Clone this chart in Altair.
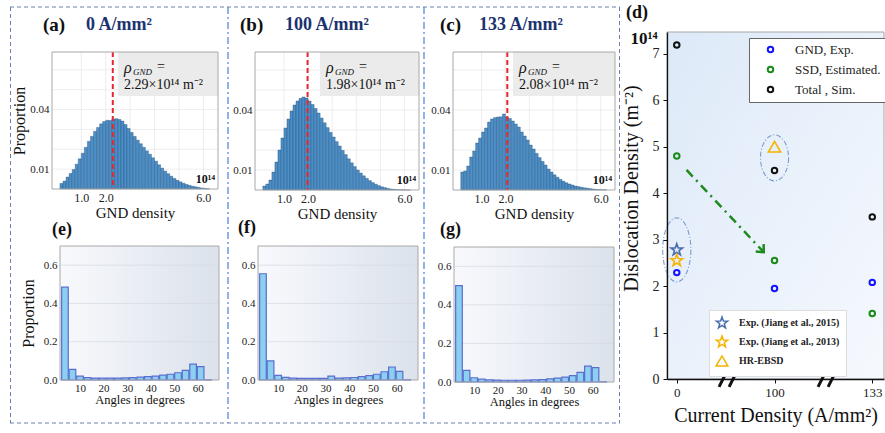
import altair as alt
import pandas as pd

SERIF = "Liberation Serif"
W, H = 885, 433

# ---------------- data: GND density histograms (a)-(c) ----------------
gnd_lo = [0.125, 0.25, 0.375, 0.5, 0.625, 0.75, 0.875, 1.0, 1.125, 1.25,
          1.375, 1.5, 1.625, 1.75, 1.875, 2.0, 2.125, 2.25, 2.375, 2.5,
          2.625, 2.75, 2.875, 3.0, 3.125, 3.25, 3.375, 3.5, 3.625, 3.75,
          3.875, 4.0, 4.125, 4.25, 4.375, 4.5, 4.625, 4.75, 4.875, 5.0,
          5.125, 5.25, 5.375, 5.5, 5.625, 5.75, 5.875, 6.0, 6.125]
gnd_hi = [0.25, 0.375, 0.5, 0.625, 0.75, 0.875, 1.0, 1.125, 1.25, 1.375,
          1.5, 1.625, 1.75, 1.875, 2.0, 2.125, 2.25, 2.375, 2.5, 2.625,
          2.75, 2.875, 3.0, 3.125, 3.25, 3.375, 3.5, 3.625, 3.75, 3.875,
          4.0, 4.125, 4.25, 4.375, 4.5, 4.625, 4.75, 4.875, 5.0, 5.125,
          5.25, 5.375, 5.5, 5.625, 5.75, 5.875, 6.0, 6.125, 6.25]
hist_a = [0.0028, 0.004, 0.006, 0.0078, 0.0098, 0.0125, 0.0152, 0.018, 0.021, 0.024,
          0.0265, 0.029, 0.031, 0.0328, 0.034, 0.0346, 0.0345, 0.0352, 0.0354, 0.035,
          0.0342, 0.0325, 0.0305, 0.0285, 0.0265, 0.0246, 0.0228, 0.021, 0.0192, 0.0175,
          0.0157, 0.014, 0.0122, 0.0105, 0.009, 0.0077, 0.0064, 0.0053, 0.0044, 0.0036,
          0.0029, 0.0023, 0.0018, 0.0014, 0.0011, 0.0008, 0.0005, 0.0003, 0.0001]
hist_b = [0.002, 0.003, 0.005, 0.009, 0.014, 0.02, 0.026, 0.031, 0.0355, 0.0395,
          0.0425, 0.0445, 0.0458, 0.0465, 0.046, 0.0445, 0.0428, 0.0408, 0.0385, 0.036,
          0.0336, 0.0312, 0.0288, 0.0265, 0.0242, 0.022, 0.0198, 0.0177, 0.0156, 0.0136,
          0.0117, 0.01, 0.0085, 0.0071, 0.0058, 0.0047, 0.0037, 0.0029, 0.0022, 0.0016,
          0.0012, 0.0008, 0.0005, 0.0003, 0.0002, 0.0001, 0.0001, 0.0, 0.0]
hist_c = [0.009, 0.0095, 0.012, 0.0165, 0.0195, 0.0235, 0.026, 0.029, 0.031, 0.034,
          0.0355, 0.0362, 0.0365, 0.0366, 0.038, 0.0365, 0.0358, 0.0345, 0.033, 0.0315,
          0.029, 0.027, 0.025, 0.0225, 0.0205, 0.0183, 0.0162, 0.0143, 0.0125, 0.0105,
          0.009, 0.0076, 0.0064, 0.0053, 0.0044, 0.0036, 0.003, 0.0025, 0.002, 0.0017,
          0.0014, 0.0011, 0.0009, 0.0007, 0.0005, 0.0003, 0.0002, 0.0001, 0.0001]
rho_vals = [2.29, 1.98, 2.08]
rho_labels = ["2.29×10¹⁴ m⁻²", "1.98×10¹⁴ m⁻²", "2.08×10¹⁴ m⁻²"]
current_titles = ["0 A/mm²", "100 A/mm²", "133 A/mm²"]
panel_letters_top = ["(a)", "(b)", "(c)"]
gnd_ticks = [1.0, 2.0, 6.0]
prop_ticks = [0.01, 0.04]
gnd_grid_x = [1, 2, 3, 4, 5, 6]
gnd_grid_y = [0.01, 0.02, 0.03, 0.04, 0.05, 0.06]

# ---------------- data: misorientation angle histograms (e)-(g) ----------------
angle_lo = [2.0, 5.2, 8.4, 11.6, 14.8, 18.0, 21.2, 24.4, 27.6, 30.8,
            34.0, 37.2, 40.4, 43.6, 46.8, 50.0, 53.2, 56.4, 59.6, 62.8]
angle_hi = [5.2, 8.4, 11.6, 14.8, 18.0, 21.2, 24.4, 27.6, 30.8, 34.0,
            37.2, 40.4, 43.6, 46.8, 50.0, 53.2, 56.4, 59.6, 62.8, 66.0]
ang_e = [0.485, 0.055, 0.02, 0.012, 0.01, 0.01, 0.01, 0.01, 0.011, 0.012,
         0.015, 0.018, 0.02, 0.025, 0.03, 0.038, 0.05, 0.083, 0.07, 0.001]
ang_f = [0.555, 0.10, 0.024, 0.014, 0.01, 0.009, 0.009, 0.009, 0.008, 0.02,
         0.01, 0.011, 0.013, 0.018, 0.023, 0.03, 0.043, 0.068, 0.045, 0.001]
ang_g = [0.50, 0.06, 0.022, 0.015, 0.011, 0.01, 0.009, 0.009, 0.009, 0.01,
         0.011, 0.012, 0.016, 0.02, 0.025, 0.033, 0.05, 0.082, 0.075, 0.001]
panel_letters_bot = ["(e)", "(f)", "(g)"]
angle_ticks = [10, 20, 30, 40, 50, 60]
angle_prop_ticks = [0.0, 0.2, 0.4, 0.6]
angle_grid = [0.2, 0.4, 0.6]

# ---------------- data: panel (d) ----------------
currents = ["0", "100", "133"]
current_pos = [0, 1, 2]
series_names = ["GND, Exp.", "SSD, Estimated.", "Total , Sim."]
series_colors = ["#1414ff", "#1a8a1a", "#111111"]
gnd_exp = [2.29, 1.95, 2.08]
ssd_est = [4.80, 2.55, 1.41]
total_sim = [7.19, 4.49, 3.49]
exp_names = ["Exp. (Jiang et al., 2015)", "Exp. (Jiang et al., 2013)", "HR-EBSD"]
exp_colors = ["#4a6fae", "#f5b400", "#f5b400"]
exp_pos = [0, 0, 1]
exp_vals = [2.78, 2.55, 5.0]
arrow_pos = [0.1, 0.89]
arrow_vals = [4.5, 2.73]
# axis-break slashes (start / end of each stroke)
slash_x1 = [0.432, 0.535, 1.445, 1.548]
slash_x2 = [0.514, 0.616, 1.527, 1.629]
slash_y1 = [-0.17, -0.17, -0.17, -0.17]
slash_y2 = [0.17, 0.17, 0.17, 0.17]
ellipse_pos = [0, 1]
ellipse_vals = [2.78, 4.76]
d_ticks = [0, 1, 2, 3, 4, 5, 6, 7]

# ---------------- panel geometry (pixels) ----------------
TOP = [(52, 218, 52, 189), (255, 419, 52, 190), (453, 615, 52, 190)]
BOT = [(60, 219, 246, 380), (258, 418, 246, 380), (454, 614, 247, 382)]
D = (667, 884, 32, 379)

ONE = alt.Data(values=[{}])
STAR = ("M0,-1 L0.235,-0.324 L0.951,-0.309 L0.380,0.124 L0.588,0.809 "
        "L0,0.4 L-0.588,0.809 L-0.380,0.124 L-0.951,-0.309 L-0.235,-0.324 Z")
CHEVRON = "M-1,-0.9 L0,0 L-1,0.9"


def ellipse_path(a):
    k = 0.5523
    return (f"M{a},0 C{a},{k} {a*k:.4f},1 0,1 C{-a*k:.4f},1 {-a},{k} {-a},0 "
            f"C{-a},{-k} {-a*k:.4f},-1 0,-1 C{a*k:.4f},-1 {a},{-k} {a},0 Z")


def txt(t, x, y, size, weight="normal", color="#111111", align="left",
        baseline="middle", style="normal", font=SERIF):
    return alt.Chart(ONE).mark_text(
        text=t, font=font, fontSize=size, fontWeight=weight, fontStyle=style,
        color=color, align=align, baseline=baseline
    ).encode(x=alt.value(x), y=alt.value(y))


def vrect(x1, x2, y1, y2, **kw):
    return alt.Chart(ONE).mark_rect(**kw).encode(
        x=alt.value(x1), x2=alt.value(x2), y=alt.value(y1), y2=alt.value(y2))


def vrule_h(y, x1, x2, **kw):
    return alt.Chart(ONE).mark_rule(**kw).encode(x=alt.value(x1), x2=alt.value(x2), y=alt.value(y))


def vrule_v(x, y1, y2, **kw):
    return alt.Chart(ONE).mark_rule(**kw).encode(x=alt.value(x), y=alt.value(y1), y2=alt.value(y2))


layers = []

# ---------- outer dashed frame ----------
FR = dict(color="#6a82b0", strokeWidth=1, strokeDash=[4, 3])
DV = dict(color="#4d7fd6", strokeWidth=1.2, strokeDash=[7, 3, 2, 3])
layers += [vrule_h(7, 10, 620, **FR), vrule_h(423, 10, 620, **FR),
           vrule_v(10.5, 7, 423, **FR), vrule_v(619.5, 7, 423, **FR),
           vrule_v(228, 7, 423, **DV), vrule_v(424, 7, 423, **DV)]

# ---------- top histograms ----------
hists = [hist_a, hist_b, hist_c]
letter_x = [43, 240, 440]
title_x = [86, 285, 479]
box_x = [118, 320, 513]
for i, (x0, x1, y0, y1) in enumerate(TOP):
    xs = alt.Scale(domain=[-0.2, 6.6], range=[x0, x1], nice=False, zero=False)
    ys = alt.Scale(domain=[0, 0.069], range=[y1, y0], nice=False, zero=False)
    xaxis = alt.Axis(orient="bottom", offset=y1 - H, values=gnd_ticks, format=".1f",
                     labelFontSize=12, labelPadding=3, title="GND density",
                     titleFontSize=15, titleY=16)
    ykw = dict(orient="left", offset=-x0, values=prop_ticks, format=".2f",
               labelFontSize=11, labelPadding=3)
    if i == 0:
        ykw.update(title="Proportion", titleFontSize=16, titleX=-25)
    else:
        ykw.update(title="")
    yaxis = alt.Axis(**ykw)
    df = pd.DataFrame({"lo": gnd_lo, "hi": gnd_hi, "p": hists[i]})
    layers.append(alt.Chart(pd.DataFrame({"g": gnd_grid_x})).mark_rule(
        color="#e8e8e8", strokeWidth=0.8).encode(
        x=alt.X("g:Q", scale=xs, axis=None), y=alt.value(y0), y2=alt.value(y1)))
    layers.append(alt.Chart(pd.DataFrame({"g": gnd_grid_y})).mark_rule(
        color="#e8e8e8", strokeWidth=0.8).encode(
        y=alt.Y("g:Q", scale=ys, axis=None), x=alt.value(x0), x2=alt.value(x1)))
    layers.append(vrect(box_x[i], x1, y0, y0 + 44, color="#ebebeb"))
    layers.append(alt.Chart(df).mark_rect(fill="#4a8fc8", stroke="#26466a", strokeWidth=0.35).encode(
        x=alt.X("lo:Q", scale=xs, axis=xaxis), x2="hi:Q",
        y=alt.Y("p:Q", scale=ys, axis=yaxis), y2=alt.datum(0)))
    layers.append(alt.Chart(pd.DataFrame({"r": [rho_vals[i]]})).mark_rule(
        color="#e8262b", strokeWidth=2, strokeDash=[5, 3]).encode(
        x=alt.X("r:Q", scale=xs, axis=None), y=alt.value(y0), y2=alt.value(y1)))
    layers.append(vrect(x0, x1, y0, y1, fillOpacity=0, stroke="#a8a8a8", strokeWidth=1))
    tx = box_x[i] + 6
    layers += [
        txt(panel_letters_top[i], letter_x[i], 25, 19, weight="bold"),
        txt(current_titles[i], title_x[i], 25, 18, weight="bold", color="#1b3270"),
        txt("ρ", tx, y0 + 16, 16, style="italic"),
        txt("GND", tx + 9, y0 + 20, 9, style="italic"),
        txt("=", tx + 33, y0 + 15, 14),
        txt(rho_labels[i], tx, y0 + 33, 14),
        txt("10¹⁴", x1 - 3, y1 - 10, 12, weight="bold", align="right"),
    ]

# ---------- bottom angle histograms ----------
angs = [ang_e, ang_f, ang_g]
bletter_x = [52, 238, 440]
bletter_y = [230, 228, 230]
for i, (x0, x1, y0, y1) in enumerate(BOT):
    xs = alt.Scale(domain=[1.5, 69], range=[x0, x1], nice=False, zero=False)
    ys = alt.Scale(domain=[0, 0.7], range=[y1, y0], nice=False, zero=False)
    xaxis = alt.Axis(orient="bottom", offset=y1 - H, values=angle_ticks, format="d",
                     labelFontSize=11, labelPadding=2, title="Angles in degrees",
                     titleFontSize=12.5, titleY=13)
    ykw = dict(orient="left", offset=-x0, values=angle_prop_ticks, format=".1f",
               labelFontSize=11, labelPadding=3)
    if i == 0:
        ykw.update(title="Proportion", titleFontSize=16, titleX=-24)
    else:
        ykw.update(title="")
    yaxis = alt.Axis(**ykw)
    grad = alt.LinearGradient(
        gradient="linear",
        stops=[alt.GradientStop(color="#f8f9fd", offset=0),
               alt.GradientStop(color="#dbe2eb", offset=1)],
        x1=0, x2=1, y1=0, y2=0)
    layers.append(vrect(x0, x1, y0, y1, fill=grad))
    layers.append(alt.Chart(pd.DataFrame({"g": angle_grid})).mark_rule(
        color="#d2d8e0", strokeWidth=0.7).encode(
        y=alt.Y("g:Q", scale=ys, axis=None), x=alt.value(x0), x2=alt.value(x1)))
    df = pd.DataFrame({"lo": angle_lo, "hi": angle_hi, "p": angs[i]})
    layers.append(alt.Chart(df).transform_calculate(
        a="datum.lo + 0.2", b="datum.hi - 0.2"
    ).mark_rect(fill="#8bd0f0", stroke="#5b6dd0", strokeWidth=1.2).encode(
        x=alt.X("a:Q", scale=xs, axis=xaxis), x2="b:Q",
        y=alt.Y("p:Q", scale=ys, axis=yaxis), y2=alt.datum(0)))
    layers.append(vrect(x0, x1, y0, y1, fillOpacity=0, stroke="#a8a8a8", strokeWidth=1))
    layers.append(txt(panel_letters_bot[i], bletter_x[i], bletter_y[i], 18, weight="bold"))

# ---------- panel (d) ----------
dx0, dx1, dy0, dy1 = D
dxs = alt.Scale(domain=[-0.1, 2.12], range=[dx0, dx1], nice=False, zero=False)
dys = alt.Scale(domain=[0, 7.47], range=[dy1, dy0], nice=False, zero=False)
label_expr = "[" + ",".join(f"'{c}'" for c in currents) + "][datum.value]"
DXA = alt.Axis(orient="bottom", offset=dy1 - H, values=current_pos, labelExpr=label_expr,
               title="Current Density (A/mm²)", titleFontSize=20, titleY=26,
               labelFontSize=13, labelPadding=3, domain=True, domainColor="#111111",
               domainWidth=1.3, ticks=True, tickColor="#111111", tickSize=4, zindex=1)
DYA = alt.Axis(orient="left", offset=-dx0, values=d_ticks, format="d", labelFontSize=14,
               labelPadding=4, title="Dislocation Density (m⁻²)", titleFontSize=20,
               titleX=-26, titleY=188, domain=True, domainColor="#111111", domainWidth=1.3,
               ticks=True, tickColor="#111111", tickSize=4, zindex=1)


def dX(f, axis=None):
    return alt.X(f, scale=dxs, axis=axis)


def dY(f, axis=None):
    return alt.Y(f, scale=dys, axis=axis)


d_grad = alt.LinearGradient(
    gradient="linear",
    stops=[alt.GradientStop(color="#dde9f8", offset=0),
           alt.GradientStop(color="#f6f9fe", offset=1)],
    x1=0, x2=1, y1=0, y2=1)
layers.append(vrect(dx0, dx1, dy0, dy1, fill=d_grad))
layers.append(vrect(dx0, dx1, dy0, dy1, fillOpacity=0, stroke="#a8a8a8", strokeWidth=1))

layers.append(alt.Chart(pd.DataFrame({"pos": [ellipse_pos[0]], "v": [ellipse_vals[0]]})).mark_point(
    shape=ellipse_path(0.44), size=4096, filled=False, color="#7d9bd0", opacity=1,
    strokeWidth=1.1, strokeDash=[5, 2, 1, 2]).encode(x=dX("pos:Q"), y=dY("v:Q")))
layers.append(alt.Chart(pd.DataFrame({"pos": [ellipse_pos[1]], "v": [ellipse_vals[1]]})).mark_point(
    shape=ellipse_path(0.61), size=2116, filled=False, color="#7d9bd0", opacity=1,
    strokeWidth=1.1, strokeDash=[5, 2, 1, 2]).encode(x=dX("pos:Q"), y=dY("v:Q")))
layers.append(alt.Chart(pd.DataFrame({"pos": arrow_pos, "v": arrow_vals})).mark_line(
    color="#1e8a1e", strokeWidth=2.5, strokeDash=[9, 5, 2, 5]).encode(x=dX("pos:Q"), y=dY("v:Q")))
layers.append(alt.Chart(pd.DataFrame({"pos": [arrow_pos[1]], "v": [arrow_vals[1]]})).mark_point(
    shape=CHEVRON, size=144, angle=47, filled=False, color="#1e8a1e", opacity=1,
    strokeWidth=2.5).encode(x=dX("pos:Q"), y=dY("v:Q")))

circ_df = pd.DataFrame({
    "pos": current_pos * 3,
    "val": gnd_exp + ssd_est + total_sim,
    "series": [n for n in series_names for _ in current_pos],
})
layers.append(alt.Chart(circ_df).mark_point(
    shape="circle", filled=False, size=30, strokeWidth=2, opacity=1).encode(
    x=dX("pos:Q", DXA), y=dY("val:Q", DYA),
    color=alt.Color("series:N", scale=alt.Scale(domain=series_names, range=series_colors),
                    legend=alt.Legend(orient="none", legendX=749, legendY=38, title=None,
                                      fillColor="white", strokeColor="#666666", padding=5,
                                      labelFont=SERIF, labelFontSize=13, labelColor="#222222",
                                      symbolType="circle", symbolSize=30, symbolStrokeWidth=2,
                                      symbolOpacity=1, symbolOffset=10, labelOffset=18,
                                      rowPadding=5))))

exp_df = pd.DataFrame({"pos": exp_pos, "val": exp_vals, "exp": exp_names})
exp_legend = alt.Legend(orient="none", legendX=709, legendY=310, title=None,
                        fillColor="white", strokeColor="#dddddd", padding=6,
                        labelFont=SERIF, labelFontSize=10, labelFontWeight="bold",
                        labelColor="#222222", symbolSize=140, symbolStrokeWidth=1.5,
                        symbolOpacity=1, labelOffset=10, rowPadding=2)
layers.append(alt.Chart(exp_df).mark_point(filled=False, size=150, strokeWidth=1.6, opacity=1).encode(
    x=dX("pos:Q"), y=dY("val:Q"),
    color=alt.Color("exp:N", scale=alt.Scale(domain=exp_names, range=exp_colors), legend=exp_legend),
    shape=alt.Shape("exp:N", scale=alt.Scale(domain=exp_names, range=[STAR, STAR, "triangle-up"]),
                    legend=exp_legend)))

slash_df = pd.DataFrame({"x1": slash_x1, "x2": slash_x2, "y1": slash_y1, "y2": slash_y2})
layers.append(alt.Chart(slash_df).mark_rule(color="#111111", strokeWidth=3).encode(
    x=dX("x1:Q"), x2="x2:Q", y=dY("y1:Q"), y2="y2:Q"))

layers += [
    txt("(d)", 637, 13, 18, weight="bold", align="center"),
    txt("10¹⁴", 644, 39, 17, weight="bold", align="center"),
]

chart = alt.layer(*layers).resolve_scale(
    x="independent", y="independent", color="independent", shape="independent"
).properties(
    width=W, height=H, padding=0, background="white",
    autosize=alt.AutoSizeParams(type="none"),
).configure_view(stroke="transparent").configure_axis(
    labelFont=SERIF, titleFont=SERIF, titleFontWeight="normal", labelColor="#222222",
    titleColor="#111111", domain=False, ticks=False, grid=False)

chart.save("out.html", embed_options={"renderer": "svg", "actions": False})
